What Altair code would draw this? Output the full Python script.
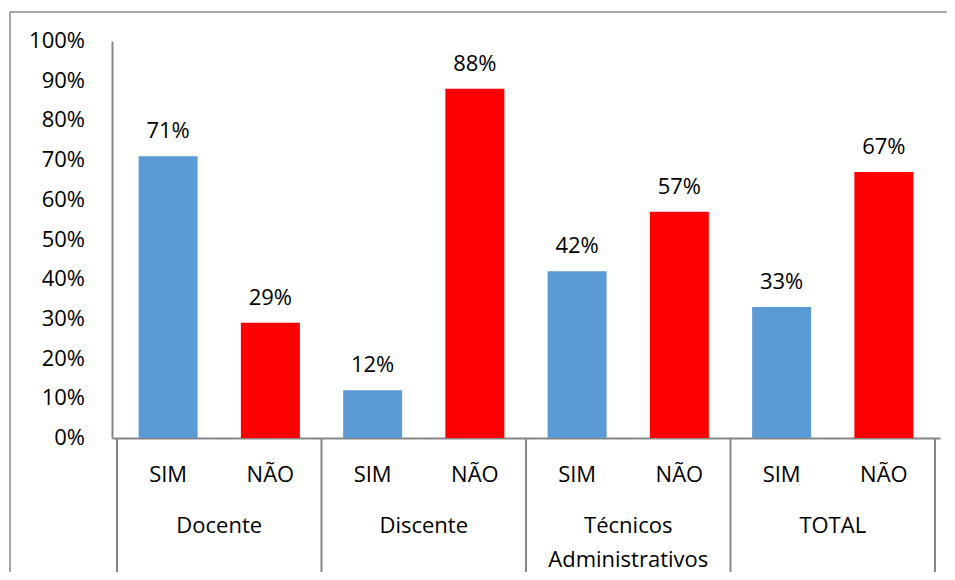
import altair as alt
import pandas as pd

groups = ["Docente", "Discente", "Técnicos\nAdministrativos", "TOTAL"]
answers = ["SIM", "NÃO"]
sim_values = [71, 12, 42, 33]
nao_values = [29, 88, 57, 67]
colors = ["#5B9BD5", "#FF0000"]
y_ticks = [0, 10, 20, 30, 40, 50, 60, 70, 80, 90, 100]

rows = []
for gi, g in enumerate(groups):
    for ai, (a, vals) in enumerate(zip(answers, [sim_values, nao_values])):
        rows.append({"group": g, "answer": a, "pos": gi * 2 + ai + 0.5,
                     "value": vals[gi], "label": f"{vals[gi]}%"})
df = pd.DataFrame(rows)
gdf = pd.DataFrame({"group": groups, "center": [i * 2 + 1 for i in range(len(groups))]})
sep = pd.DataFrame({"b": [i * 2 for i in range(len(groups) + 1)]})
tdf = pd.DataFrame({"t": y_ticks, "tl": [f"{t}%" for t in y_ticks]})
one = pd.DataFrame({"a": [0]})

W, H = 828, 397
FONT = "Open Sans"
FS = 22
GRAY = "#868686"

xs = alt.Scale(domain=[0, len(groups) * 2], nice=False, zero=False)
ys = alt.Scale(domain=[0, 100], nice=False)

x_axis = alt.Axis(labels=False, ticks=False, grid=False, title=None, domainColor=GRAY, domainWidth=2)
y_axis = alt.Axis(labels=False, ticks=False, grid=False, title=None,
                  domainColor=GRAY, domainWidth=2)

bars = alt.Chart(df).mark_bar(size=59).encode(
    x=alt.X("pos:Q", scale=xs, axis=x_axis),
    y=alt.Y("value:Q", scale=ys, axis=y_axis),
    color=alt.Color("answer:N", scale=alt.Scale(domain=answers, range=colors), legend=None),
)

ylabels = alt.Chart(tdf).mark_text(align="right", baseline="middle", font=FONT, fontSize=FS,
                                   color="#000").encode(
    x=alt.value(-27), y=alt.Y("t:Q", scale=ys, axis=y_axis), text="tl:N")

vlabels = alt.Chart(df).mark_text(baseline="alphabetic", dy=-18, font=FONT, fontSize=FS, color="#000").encode(
    x=alt.X("pos:Q", scale=xs, axis=x_axis), y=alt.Y("value:Q", scale=ys, axis=y_axis), text="label:N")

alabels = alt.Chart(df).mark_text(baseline="alphabetic", font=FONT, fontSize=FS, color="#000").encode(
    x=alt.X("pos:Q", scale=xs, axis=x_axis), y=alt.value(H + 44), text="answer:N")

glabels = alt.Chart(gdf).mark_text(baseline="alphabetic", font=FONT, fontSize=FS, color="#000",
                                   lineBreak="\n", lineHeight=34).encode(
    x=alt.X("center:Q", scale=xs, axis=x_axis), y=alt.value(H + 95), text="group:N")

seps = alt.Chart(sep).mark_rule(color=GRAY, strokeWidth=2).encode(
    x=alt.X("b:Q", scale=xs, axis=x_axis), y=alt.value(H), y2=alt.value(H + 135))

border_top = alt.Chart(one).mark_rule(color="#A6A6A6", strokeWidth=2).encode(
    x=alt.value(-102), x2=alt.value(W + 20), y=alt.value(-29))
border_left = alt.Chart(one).mark_rule(color="#A6A6A6", strokeWidth=2).encode(
    x=alt.value(-102), y=alt.value(-29), y2=alt.value(H + 145))

chart = alt.layer(border_top, border_left, seps, bars, ylabels, vlabels, alabels, glabels).properties(
    width=W, height=H,
    background="white",
    autosize=alt.AutoSizeParams(type="none"),
    padding={"left": 104, "top": 33, "right": 7, "bottom": 134},
).configure_view(strokeWidth=0, stroke="transparent").configure_axis(grid=False)

chart.save("out.html", embed_options={"renderer": "svg", "actions": False})
